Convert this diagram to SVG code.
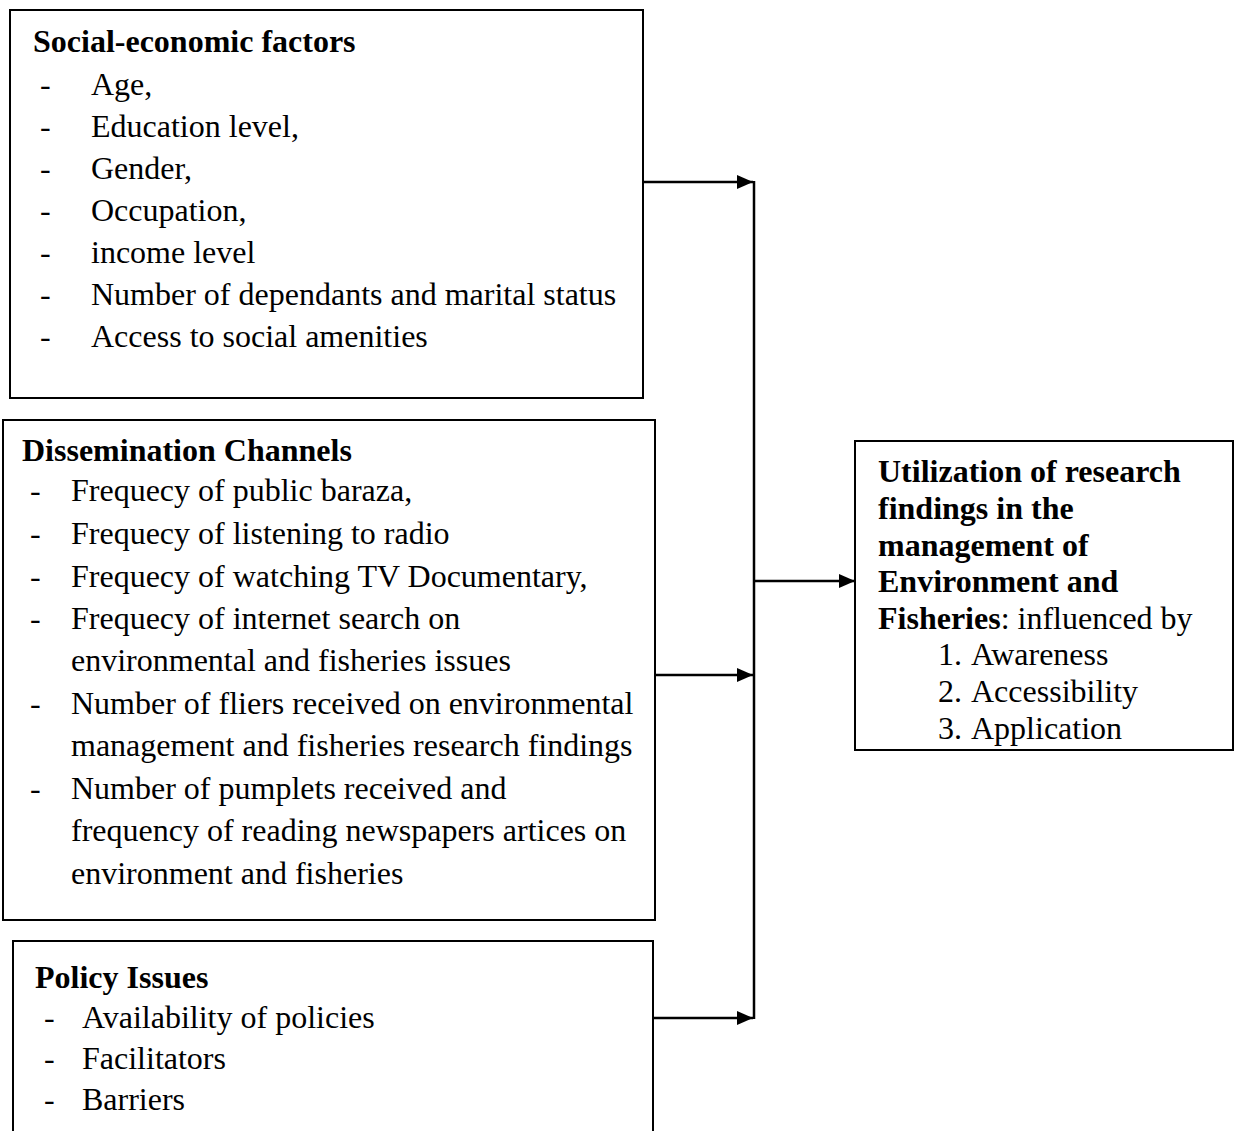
<svg xmlns="http://www.w3.org/2000/svg" width="1234" height="1131" viewBox="0 0 1234 1131">
<style>
.box{fill:#fff;stroke:#000;stroke-width:2}
text{font-family:"Liberation Serif","Times New Roman",serif;font-size:32px;fill:#000}
.b{font-weight:bold}
.conn{stroke:#000;stroke-width:2.5;fill:none}
</style>
<defs>
<marker id="ah" markerWidth="16" markerHeight="14" refX="16" refY="7" orient="auto" markerUnits="userSpaceOnUse">
<path d="M0,0 L16,7 L0,14 Z" fill="#000"/>
</marker>
</defs>
<rect width="1234" height="1131" fill="#fff"/>
<g id="socio">
<rect class="box" x="10" y="10" width="633" height="388"/>
<text class="b" x="33" y="52">Social-economic factors</text>
<text x="40" y="95">-</text><text x="91" y="95">Age,</text>
<text x="40" y="137">-</text><text x="91" y="137">Education level,</text>
<text x="40" y="179">-</text><text x="91" y="179">Gender,</text>
<text x="40" y="221">-</text><text x="91" y="221">Occupation,</text>
<text x="40" y="263">-</text><text x="91" y="263">income level</text>
<text x="40" y="305">-</text><text x="91" y="305">Number of dependants and marital status</text>
<text x="40" y="347">-</text><text x="91" y="347">Access to social amenities</text>
</g>
<g id="dissemination">
<rect class="box" x="3" y="420" width="652" height="500"/>
<text class="b" x="22" y="461">Dissemination Channels</text>
<text x="30" y="501">-</text><text x="71" y="501">Frequecy of public baraza,</text>
<text x="30" y="544">-</text><text x="71" y="544">Frequecy of listening to radio</text>
<text x="30" y="587">-</text><text x="71" y="587">Frequecy of watching TV Documentary,</text>
<text x="30" y="629">-</text><text x="71" y="629">Frequecy of internet search on</text>
<text x="71" y="671">environmental and fisheries issues</text>
<text x="30" y="714">-</text><text x="71" y="714">Number of fliers received on environmental</text>
<text x="71" y="756">management and fisheries research findings</text>
<text x="30" y="799">-</text><text x="71" y="799">Number of pumplets received and</text>
<text x="71" y="841">frequency of reading newspapers artices on</text>
<text x="71" y="884">environment and fisheries</text>
</g>
<g id="policy">
<rect class="box" x="13" y="941" width="640" height="200"/>
<text class="b" x="35" y="988">Policy Issues</text>
<text x="44" y="1028">-</text><text x="82" y="1028">Availability of policies</text>
<text x="44" y="1069">-</text><text x="82" y="1069">Facilitators</text>
<text x="44" y="1110">-</text><text x="82" y="1110">Barriers</text>
</g>
<g id="utilization">
<rect class="box" x="855" y="441" width="378" height="309"/>
<text class="b" x="878" y="482">Utilization of research</text>
<text class="b" x="878" y="519">findings in the</text>
<text class="b" x="878" y="556">management of</text>
<text class="b" x="878" y="592">Environment and</text>
<text x="878" y="629"><tspan class="b">Fisheries</tspan>: influenced by</text>
<text x="938" y="665">1.</text><text x="971" y="665">Awareness</text>
<text x="938" y="702">2.</text><text x="971" y="702">Accessibility</text>
<text x="938" y="739">3.</text><text x="971" y="739">Application</text>
</g>
<g id="connectors">
<line class="conn" x1="643" y1="182" x2="753" y2="182" marker-end="url(#ah)"/>
<line class="conn" x1="655" y1="675" x2="753" y2="675" marker-end="url(#ah)"/>
<line class="conn" x1="653" y1="1018" x2="753" y2="1018" marker-end="url(#ah)"/>
<line class="conn" x1="754" y1="181" x2="754" y2="1019"/>
<line class="conn" x1="754" y1="581" x2="855" y2="581" marker-end="url(#ah)"/>
</g>
</svg>
